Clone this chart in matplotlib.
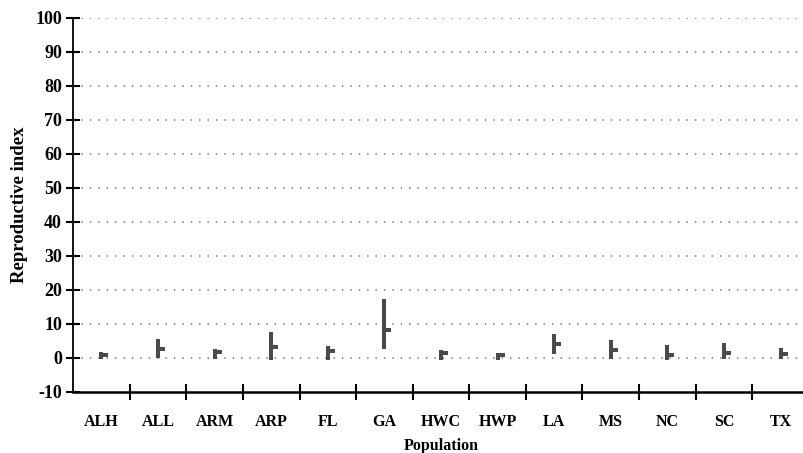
import matplotlib
matplotlib.use("Agg")
import matplotlib.pyplot as plt
from matplotlib.path import Path
import numpy as np

populations = ["ALH", "ALL", "ARM", "ARP", "FL", "GA", "HWC", "HWP", "LA", "MS", "NC", "SC", "TX"]
values = {
    "ALH": [0.2, 0.5, 0.8, 1.0, 1.3],
    "ALL": [0.5, 1.2, 2.0, 2.6, 3.1, 3.8, 4.4, 4.9],
    "ARM": [0.3, 0.9, 1.4, 1.8, 2.2],
    "ARP": [0.1, 0.8, 1.5, 2.3, 3.0, 3.6, 4.3, 5.0, 5.8, 6.5, 7.2],
    "FL": [0.1, 0.7, 1.4, 2.0, 2.6, 3.0],
    "GA": [3.2, 4.1, 5.0, 6.1, 7.0, 7.8, 8.6, 9.5, 10.4, 11.3, 12.2, 13.1, 14.0, 15.0, 15.9, 16.8],
    "HWC": [0.1, 0.6, 1.1, 1.5, 1.8],
    "HWP": [0.1, 0.4, 0.7, 1.0],
    "LA": [1.9, 2.6, 3.3, 4.0, 4.7, 5.4, 6.1, 6.6],
    "MS": [0.3, 1.0, 1.7, 2.4, 3.1, 3.8, 4.6],
    "NC": [0.1, 0.7, 1.3, 1.9, 2.5, 3.1],
    "SC": [0.3, 0.9, 1.5, 2.1, 2.7, 3.3, 3.8],
    "TX": [0.3, 0.8, 1.3, 1.8, 2.3],
}
means = [0.8, 2.6, 1.8, 3.2, 2.0, 8.3, 1.5, 0.8, 4.2, 2.4, 1.0, 1.6, 1.1]
yticks = list(range(-10, 101, 10))

plt.rcParams["font.family"] = ["Liberation Serif", "DejaVu Serif"]
fig = plt.figure(figsize=(8.04, 4.53), dpi=100)
ax = fig.add_axes([0.091, 0.1347, 0.915, 0.8256])

ax.set_xlim(-0.5, len(populations) - 0.5)
ax.set_ylim(-10, 100)

for g in range(0, 101, 10):
    ax.axhline(g, color="#7a7a7a", lw=1.1, linestyle=(0, (1, 4.5)), zorder=1)

mark_color = "#4a4a4a"
for i, p in enumerate(populations):
    v = values[p]
    ax.plot([i] * len(v), v, linestyle="none", marker="s", markersize=3.4,
            color=mark_color, markeredgewidth=0, zorder=3)
    ax.plot([i, i], [min(v), max(v)], color=mark_color, lw=2.6, zorder=2,
            solid_capstyle="butt")

rect = Path([(0, -0.35), (1, -0.35), (1, 0.35), (0, 0.35), (0, -0.35)],
            [Path.MOVETO, Path.LINETO, Path.LINETO, Path.LINETO, Path.CLOSEPOLY])
ax.plot(range(len(populations)), means, linestyle="none", marker=rect,
        markersize=10, color=mark_color, markeredgewidth=0, zorder=4)

ax.set_yticks(yticks)
ax.set_yticklabels([str(t) for t in yticks], fontsize=13, fontweight="bold")
ax.set_xticks(np.arange(len(populations)))
ax.set_xticklabels(populations, fontsize=11.5, fontweight="bold")
ax.set_xticks(np.arange(len(populations) - 1) + 0.5, minor=True)
ax.tick_params(axis="x", which="major", length=0, pad=16)
ax.tick_params(axis="x", which="minor", direction="inout", length=11, width=1.5)
ax.tick_params(axis="y", direction="inout", length=10, width=1.5, pad=3)

for s in ["top", "right"]:
    ax.spines[s].set_visible(False)
ax.spines["left"].set_linewidth(1.3)
ax.spines["bottom"].set_linewidth(1.8)

ax.set_ylabel("Reproductive index", fontsize=13.5, fontweight="bold", labelpad=5)
ax.set_xlabel("Population", fontsize=11.5, fontweight="bold", labelpad=5.5)

fig.savefig("out.png", dpi=100)
